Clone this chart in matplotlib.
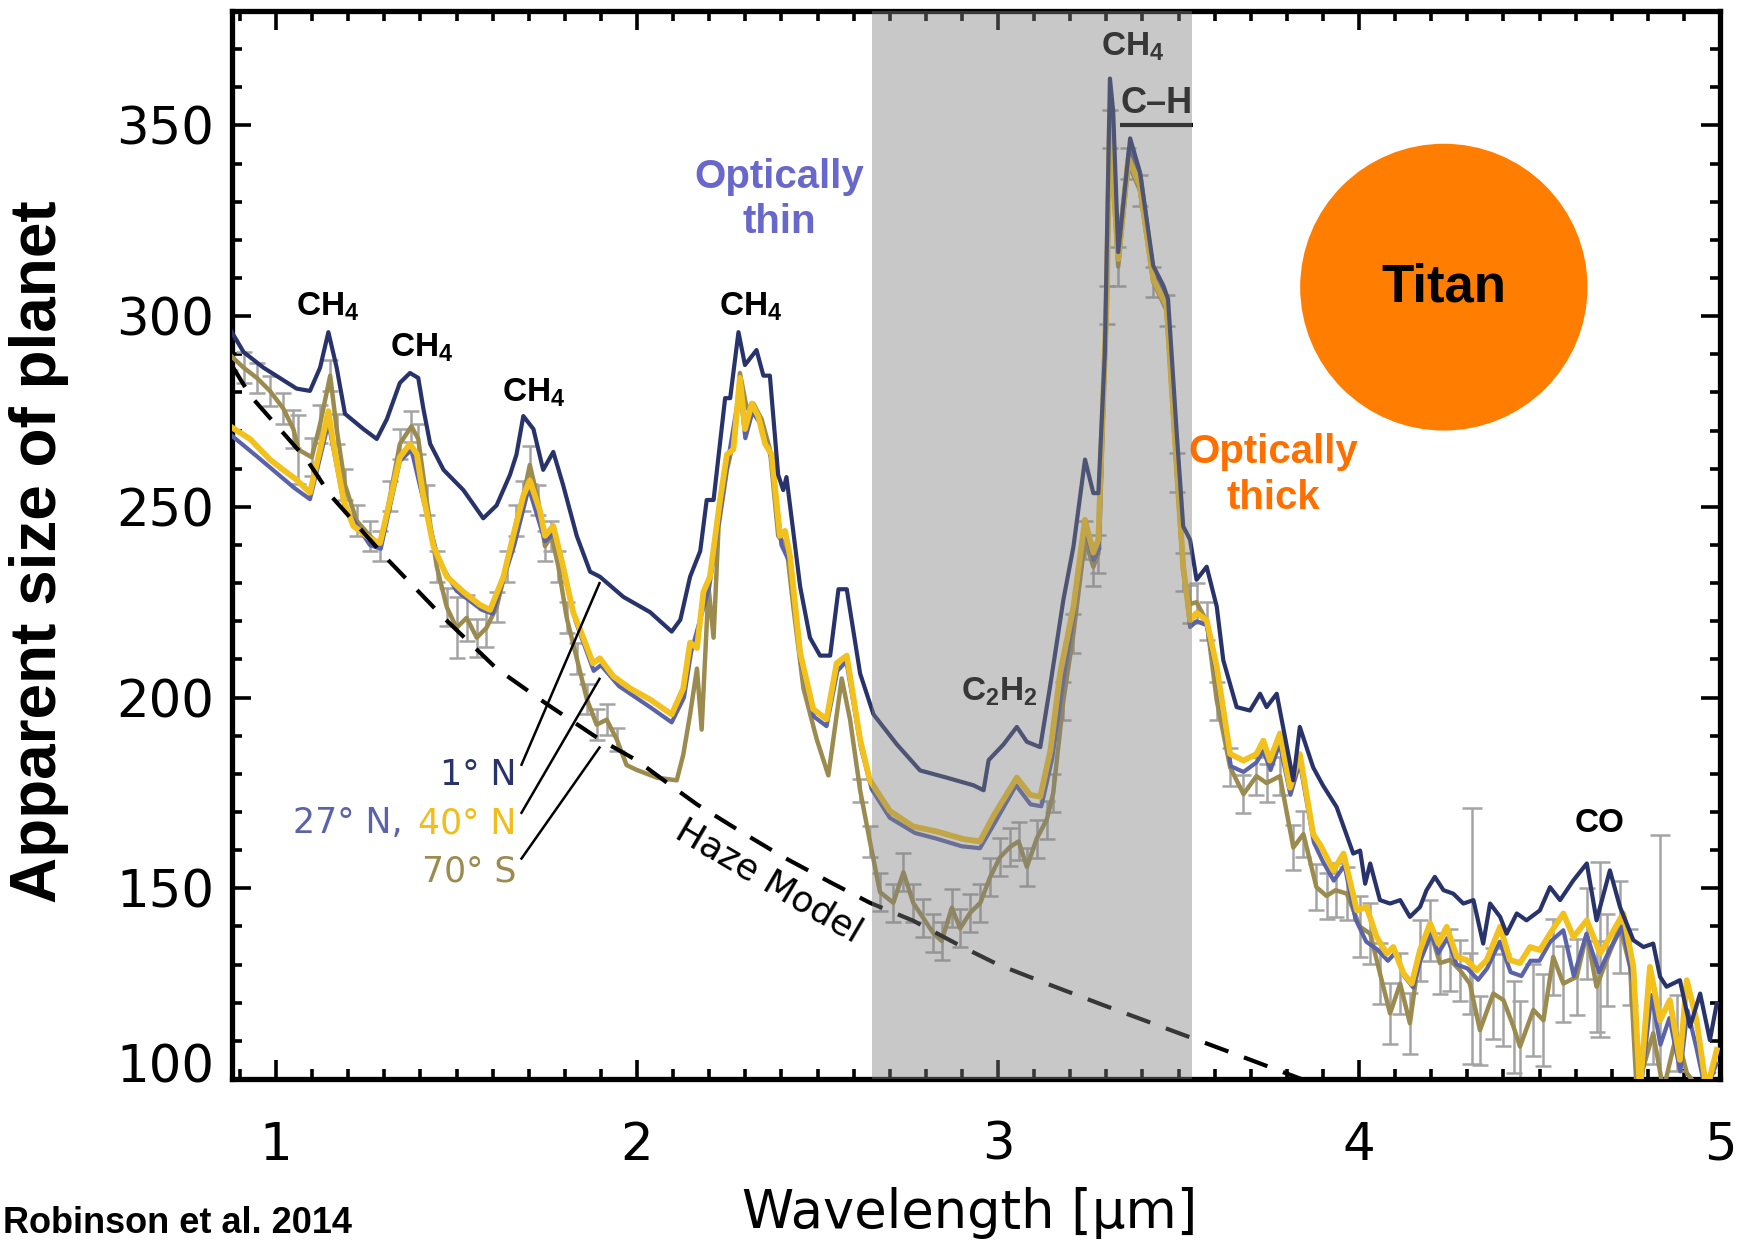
import numpy as np
import matplotlib
matplotlib.use("Agg")
import matplotlib.pyplot as plt
import matplotlib.transforms as mtransforms
from matplotlib.patches import Ellipse
from matplotlib.ticker import MultipleLocator, FixedLocator

plt.rcParams['font.family'] = ['DejaVu Sans']
plt.rcParams['mathtext.fontset'] = 'custom'
plt.rcParams['mathtext.rm'] = 'Liberation Sans:bold'
plt.rcParams['mathtext.it'] = 'Liberation Sans:bold:italic'
plt.rcParams['mathtext.bf'] = 'Liberation Sans:bold'
plt.rcParams['mathtext.default'] = 'rm'

# ---------------- data ----------------
n1_x = [0.873, 0.91, 0.965, 1.057, 1.094, 1.122, 1.145, 1.168, 1.191, 1.242, 1.279, 1.307,
        1.343, 1.371, 1.394, 1.408, 1.427, 1.464, 1.519, 1.574, 1.611, 1.648, 1.666, 1.685,
        1.713, 1.740, 1.768, 1.795, 1.833, 1.87, 1.897, 1.962, 2.036, 2.096, 2.12, 2.147,
        2.175, 2.193, 2.212, 2.244, 2.258, 2.281, 2.299, 2.331, 2.35, 2.368, 2.391, 2.405,
        2.414, 2.452, 2.479, 2.507, 2.535, 2.558, 2.581, 2.618, 2.655, 2.72, 2.784, 2.858,
        2.932, 2.96, 2.974, 3.015, 3.052, 3.08, 3.117, 3.144, 3.181, 3.209, 3.241, 3.264,
        3.278, 3.296, 3.31, 3.319, 3.333, 3.366, 3.393, 3.43, 3.458, 3.471, 3.495, 3.513,
        3.532, 3.55, 3.578, 3.606, 3.624, 3.661, 3.698, 3.726, 3.744, 3.772, 3.818, 3.836,
        3.873, 3.90, 3.938, 3.984, 4.003, 4.017, 4.031, 4.058, 4.086, 4.114, 4.141, 4.169,
        4.187, 4.21, 4.234, 4.261, 4.289, 4.317, 4.344, 4.363, 4.391, 4.409, 4.437, 4.464,
        4.501, 4.529, 4.557, 4.594, 4.631, 4.658, 4.695, 4.723, 4.76, 4.788, 4.815, 4.834,
        4.852, 4.889, 4.917, 4.945, 4.972, 4.991]
n1_y = [296.5, 290.6, 286.5, 281.0, 280.4, 286.5, 295.8, 286.5, 274.4, 270.4, 267.8, 273.0,
        282.5, 285.1, 283.8, 275.8, 266.5, 259.7, 254.4, 247.0, 250.4, 258.4, 263.7, 273.8,
        270.4, 259.7, 264.4, 255.8, 242.4, 233.0, 231.7, 226.4, 222.4, 217.3, 220.4, 231.7,
        238.4, 251.8, 251.8, 278.5, 278.5, 295.8, 287.2, 291.1, 284.4, 284.4, 258.4, 254.4,
        257.8, 229.0, 215.7, 211.0, 211.0, 228.4, 228.4, 206.3, 195.6, 187.7, 180.9, 179.0,
        177.0, 175.7, 183.6, 187.7, 192.3, 188.4, 187.0, 202.8, 225.6, 239.6, 262.4, 253.6,
        253.6, 290.5, 362.3, 353.7, 316.8, 346.6, 337.8, 313.2, 308.0, 304.5, 269.4, 244.9,
        241.4, 230.9, 234.3, 223.8, 209.8, 197.5, 196.6, 201.0, 197.5, 201.0, 178.3, 192.3,
        181.7, 177.0, 171.3, 159.1, 159.9, 151.2, 156.5, 146.9, 146.0, 146.9, 142.5, 145.1,
        149.5, 153.0, 149.5, 148.6, 146.0, 146.9, 135.5, 146.0, 142.5, 138.1, 143.4, 141.6,
        144.2, 150.3, 146.9, 152.1, 156.5, 141.6, 154.7, 145.1, 136.4, 134.6, 135.5, 126.8,
        124.2, 125.9, 113.7, 122.4, 110.2, 119.8]

n40_x = [0.873, 0.928, 0.983, 1.02, 1.057, 1.094, 1.122, 1.145, 1.159, 1.187, 1.214, 1.26,
         1.288, 1.316, 1.343, 1.371, 1.39, 1.408, 1.436, 1.473, 1.519, 1.565, 1.593, 1.63,
         1.657, 1.685, 1.703, 1.731, 1.745, 1.768, 1.795, 1.823, 1.851, 1.878, 1.897, 1.934,
         1.981, 2.036, 2.096, 2.128, 2.147, 2.166, 2.184, 2.202, 2.23, 2.249, 2.267, 2.285,
         2.299, 2.318, 2.336, 2.355, 2.373, 2.396, 2.41, 2.424, 2.452, 2.488, 2.525, 2.553,
         2.581, 2.618, 2.645, 2.7, 2.765, 2.83, 2.904, 2.95, 2.987, 3.052, 3.089, 3.117,
         3.145, 3.172, 3.209, 3.241, 3.264, 3.278, 3.301, 3.31, 3.333, 3.361, 3.393, 3.43,
         3.467, 3.495, 3.513, 3.532, 3.55, 3.578, 3.606, 3.643, 3.68, 3.716, 3.735, 3.753,
         3.781, 3.809, 3.836, 3.873, 3.895, 3.929, 3.957, 3.994, 4.021, 4.049, 4.077, 4.095,
         4.123, 4.146, 4.169, 4.197, 4.22, 4.243, 4.271, 4.298, 4.326, 4.354, 4.391, 4.418,
         4.446, 4.474, 4.501, 4.529, 4.566, 4.594, 4.631, 4.668, 4.695, 4.732, 4.76, 4.778,
         4.806, 4.834, 4.861, 4.889, 4.908, 4.935, 4.963, 4.991]
n40_y = [271.1, 267.8, 262.4, 259.7, 257.1, 253.7, 265.1, 275.1, 266.5, 251.8, 245.0, 241.7,
         240.5, 251.8, 263.0, 266.5, 263.8, 252.9, 239.7, 231.7, 227.7, 224.3, 223.0, 231.7,
         242.4, 252.9, 256.9, 249.0, 242.4, 245.0, 234.4, 222.4, 215.7, 209.0, 210.3, 205.6,
         202.4, 199.5, 195.6, 202.4, 214.4, 213.0, 227.7, 231.7, 251.8, 263.7, 265.1, 283.8,
         270.4, 277.1, 273.7, 266.5, 263.7, 242.4, 243.7, 237.0, 211.7, 197.0, 194.3, 209.0,
         211.0, 189.0, 178.3, 170.3, 166.2, 164.9, 162.9, 162.3, 168.9, 179.0, 174.5, 174.0,
         186.0, 206.3, 223.8, 246.6, 238.0, 241.4, 304.5, 351.8, 315.0, 341.4, 334.3, 309.7,
         302.7, 260.7, 234.3, 220.3, 222.2, 220.3, 208.0, 185.2, 183.5, 185.2, 188.7, 183.5,
         190.6, 176.4, 185.2, 164.2, 161.0, 154.7, 159.1, 144.2, 145.1, 137.2, 132.9, 134.6,
         127.7, 125.0, 133.8, 140.8, 135.5, 139.9, 132.0, 131.2, 128.5, 131.2, 139.9, 131.2,
         130.4, 134.6, 133.8, 138.1, 143.4, 137.2, 141.6, 132.9, 137.2, 143.4, 129.4, 97.0,
         129.4, 115.4, 120.7, 105.0, 125.9, 115.4, 97.0, 107.6]

n27_x = [0.873, 0.95, 1.05, 1.094, 1.145, 1.19, 1.26, 1.29, 1.343, 1.375, 1.41, 1.45, 1.50,
         1.57, 1.60, 1.66, 1.70, 1.745, 1.77, 1.83, 1.88, 1.90, 1.95, 2.036, 2.096, 2.13,
         2.15, 2.20, 2.25, 2.285, 2.30, 2.32, 2.34, 2.375, 2.40, 2.425, 2.455, 2.49, 2.525,
         2.555, 2.58, 2.62, 2.65, 2.70, 2.77, 2.83, 2.90, 2.95, 2.99, 3.05, 3.09, 3.12, 3.15,
         3.18, 3.21, 3.24, 3.265, 3.28, 3.30, 3.31, 3.333, 3.363, 3.395, 3.43, 3.467, 3.495,
         3.513, 3.532, 3.55, 3.578, 3.606, 3.645, 3.68, 3.716, 3.735, 3.755, 3.78, 3.81,
         3.836, 3.875, 3.90, 3.93, 3.96, 3.99, 4.02, 4.05, 4.08, 4.10, 4.125, 4.15, 4.17,
         4.20, 4.22, 4.245, 4.27, 4.30, 4.33, 4.355, 4.39, 4.42, 4.45, 4.475, 4.50, 4.53,
         4.566, 4.595, 4.63, 4.665, 4.695, 4.73, 4.76, 4.78, 4.81, 4.835, 4.86, 4.89, 4.91,
         4.935, 4.96, 4.99]
n27_y = [269, 263, 255, 252, 272, 250, 240, 239, 262, 265, 251, 236, 228, 223, 222, 240, 255,
         241, 243, 220, 207, 208.5, 203, 197.5, 193.5, 200, 212, 229, 261, 281, 268, 275, 272,
         262, 240, 235, 209, 195, 192.5, 207, 209.5, 187, 176, 168.5, 164.5, 163, 161, 160.5,
         167, 177, 172, 171.5, 184, 204, 222, 245, 236, 239, 303, 352, 318, 344, 337, 312,
         305, 263, 235, 218.5, 220, 219, 206, 182, 180.5, 183, 186, 181, 188, 174.5, 183,
         162, 157, 152, 156, 142, 136, 134, 131, 133, 127, 124, 131, 138, 133, 137, 130, 129,
         126, 129, 136, 128, 127, 131, 131, 136, 139, 127, 138, 128, 134, 140, 125, 97, 122,
         109, 116, 102, 118, 108, 97, 104]

s70_x = [0.873, 0.91, 0.947, 0.983, 1.02, 1.048, 1.062, 1.099, 1.122, 1.15, 1.168, 1.191,
         1.223, 1.26, 1.288, 1.316, 1.343, 1.375, 1.394, 1.417, 1.445, 1.473, 1.5, 1.528,
         1.556, 1.583, 1.611, 1.639, 1.666, 1.685, 1.703, 1.726, 1.745, 1.763, 1.782, 1.805,
         1.833, 1.861, 1.888, 1.916, 1.944, 1.971, 2.0, 2.055, 2.11, 2.128, 2.147, 2.166,
         2.179, 2.198, 2.212, 2.226, 2.249, 2.272, 2.285, 2.304, 2.322, 2.345, 2.368, 2.391,
         2.414, 2.433, 2.461, 2.498, 2.53, 2.567, 2.59, 2.618, 2.645, 2.673, 2.71, 2.738,
         2.765, 2.793, 2.821, 2.844, 2.872, 2.895, 2.923, 2.951, 2.978, 3.006, 3.034, 3.057,
         3.08, 3.107, 3.135, 3.153, 3.181, 3.209, 3.241, 3.264, 3.278, 3.301, 3.31, 3.333,
         3.361, 3.393, 3.43, 3.467, 3.495, 3.513, 3.532, 3.55, 3.578, 3.606, 3.643, 3.68,
         3.716, 3.744, 3.781, 3.818, 3.846, 3.882, 3.91, 3.935, 3.966, 4.003, 4.031, 4.058,
         4.086, 4.114, 4.141, 4.169, 4.197, 4.224, 4.252, 4.28, 4.307, 4.335, 4.372, 4.4,
         4.428, 4.446, 4.483, 4.511, 4.538, 4.566, 4.603, 4.631, 4.658, 4.686, 4.723, 4.751,
         4.769, 4.815, 4.843, 4.88, 4.908, 4.945, 4.982]
s70_y = [289.8, 286.5, 283.8, 280.4, 275.8, 270.4, 265.0, 263.0, 271.7, 284.4, 270.4, 255.8,
         246.4, 242.4, 239.7, 252.9, 266.5, 271.1, 267.8, 251.8, 234.4, 223.7, 218.3, 220.9,
         215.7, 218.3, 223.7, 234.4, 246.4, 252.9, 261.0, 251.8, 239.7, 242.4, 234.4, 221.0,
         210.3, 199.6, 192.9, 194.2, 189.0, 182.3, 181.0, 179.0, 178.3, 185.0, 195.6, 207.6,
         191.6, 229.0, 215.7, 245.0, 259.7, 269.1, 285.1, 275.8, 277.1, 273.0, 265.1, 242.4,
         239.7, 223.7, 202.4, 189.0, 179.6, 205.0, 194.3, 175.7, 162.3, 149.0, 146.2, 154.2,
         146.2, 142.2, 138.2, 136.2, 144.9, 139.5, 143.6, 146.2, 152.9, 158.2, 160.9, 162.3,
         155.6, 163.0, 168.0, 175.0, 199.2, 216.8, 241.4, 234.3, 237.7, 303.0, 349.0, 313.0,
         340.0, 333.0, 309.0, 301.5, 259.0, 233.0, 224.5, 225.0, 220.0, 199.2, 181.7, 174.7,
         179.4, 177.6, 179.4, 160.7, 164.2, 150.3, 148.0, 149.5, 148.6, 139.9, 138.1, 127.7,
         117.2, 125.0, 114.6, 133.8, 139.0, 130.4, 131.2, 128.5, 125.0, 112.8, 122.4, 120.7,
         113.7, 108.5, 118.1, 115.4, 132.0, 125.0, 126.8, 138.1, 124.2, 131.2, 139.9, 129.4,
         97.0, 112.0, 97.0, 112.0, 101.6, 97.0, 101.6]
s70_err = [4, 4, 4, 4, 4, 5, 9, 5, 5, 4, 4, 4,
           4, 4, 4, 4, 4, 4, 4, 4, 4, 5, 8, 6,
           5, 5, 4, 4, 4, 4, 5, 4, 4, 4, 4, 4,
           4, 4, 4, 4, 3, 0, 0, 0, 0, 0, 0, 0,
           0, 0, 0, 0, 0, 0, 0, 0, 0, 0, 0, 0,
           0, 0, 0, 0, 0, 0, 0, 3, 4, 5, 5, 5,
           5, 5, 5, 5, 5, 5, 5, 5, 5, 5, 5, 5,
           5, 5, 5, 5, 5, 5, 5, 5, 5, 5, 5, 5,
           4, 4, 4, 4, 5, 5, 5, 5, 5, 5, 5, 5,
           5, 5, 5, 6, 6, 6, 6, 7, 7, 8, 8, 8,
           8, 8, 8, 8, 8, 8, 8, 8, 8, 9, 12, 12,
           12, 12, 12, 12, 10, 10, 10, 12, 12, 12, 12, 10,
           0, 8, 0, 10, 0, 0, 0]

# a few very large uncertainty bars (x, lower, upper)
big_x = [4.312, 4.667, 4.834]
big_lo = [104, 111, 99]
big_hi = [171, 157, 164]

haze_x = [0.878, 0.93, 1.085, 1.15, 1.307, 1.464, 1.611, 1.75, 1.897, 2.0, 2.1, 2.166,
          2.285, 2.405, 2.535, 2.645, 2.765, 2.904, 3.0, 3.135, 3.288, 3.473, 3.658, 3.84]
haze_y = [287, 279, 262.4, 253.1, 236.4, 221, 207.6, 198.3, 189, 183.5, 176.5, 172,
          165, 158.2, 151.6, 146.2, 141.5, 134.5, 130, 125, 119.5, 113, 106.5, 100]

x_ticks = [1, 2, 3, 4, 5]
y_ticks = [100, 150, 200, 250, 300, 350]

# ---------------- style ----------------
C_N1 = '#28336c'
C_N27 = '#5a63aa'
C_N40 = '#f3c11c'
C_S70 = '#9c8b4e'
C_ERR = '#a4a4a4'

fig = plt.figure(figsize=(17.48, 12.44), dpi=100)
ax = fig.add_axes([232/1748, 1-1079/1244, (1720-232)/1748, (1079-11)/1244])

ax.set_xlim(0.878, 5.0)
ax.set_ylim(100, 380)

# error bars of 70S
ex = [x for x, e in zip(s70_x, s70_err) if e > 0]
ey = [y for y, e in zip(s70_y, s70_err) if e > 0]
ee = [e for e in s70_err if e > 0]
ax.errorbar(ex, ey, yerr=ee, fmt='none', ecolor=C_ERR, elinewidth=1.8,
            capsize=5.5, capthick=1.8, zorder=2)
bc = [(lo + hi) / 2 for lo, hi in zip(big_lo, big_hi)]
bh = [(hi - lo) / 2 for lo, hi in zip(big_lo, big_hi)]
ax.errorbar(big_x, bc, yerr=bh, fmt='none', ecolor=C_ERR, elinewidth=1.8,
            capsize=7, capthick=1.8, zorder=2)

ax.plot(s70_x, s70_y, color=C_S70, lw=3.2, zorder=3, solid_joinstyle='round')
ax.plot(n27_x, n27_y, color=C_N27, lw=3.0, zorder=4, solid_joinstyle='round')
ax.plot(n40_x, n40_y, color=C_N40, lw=4.2, zorder=5, solid_joinstyle='round')
ax.plot(n1_x, n1_y, color=C_N1, lw=3.0, zorder=6, solid_joinstyle='round')

ax.plot(haze_x, haze_y, color='black', lw=3.0, ls=(0, (6, 4)), zorder=7)

# legend pointer lines
for (x0, y0, x1, y1) in [(1.68, 182.4, 1.896, 230.0),
                         (1.68, 169.8, 1.896, 204.9),
                         (1.68, 157.8, 1.896, 186.9)]:
    ax.plot([x0, x1], [y0, y1], color='black', lw=1.8, zorder=8)

lfs = 25
ax.text(1.667, 179.6, '1° N', color=C_N1, fontsize=lfs, ha='right', va='center', zorder=9)
ax.text(1.667, 167.0, '40° N', color='#f0bd1a', fontsize=lfs, ha='right', va='center', zorder=9)
ax.text(1.350, 167.0, '27° N,', color=C_N27, fontsize=lfs, ha='right', va='center', zorder=9)
ax.text(1.667, 154.3, '70° S', color=C_S70, fontsize=lfs, ha='right', va='center', zorder=9)

ax.text(2.366, 151.8, 'Haze Model', fontsize=26, rotation=-30.5, ha='center', va='center',
        rotation_mode='anchor', zorder=9)

# molecule labels
mfam = 'Liberation Sans'
mfs = 24
for (tx, ty, s) in [(1.143, 302.5, 'CH$_4$'), (1.404, 291.8, 'CH$_4$'),
                    (1.713, 279.8, 'CH$_4$'), (2.314, 302.5, 'CH$_4$'),
                    (3.373, 370.7, 'CH$_4$'), (3.003, 201.6, 'C$_2$H$_2$'),
                    (4.665, 167.0, 'CO')]:
    ax.text(tx, ty, s, fontsize=mfs, family=mfam, weight='bold', ha='center', va='center', zorder=9)
ax.text(3.44, 355.8, 'C\u2013H', fontsize=26, family=mfam, weight='bold', ha='center', va='center', zorder=9)
ax.plot([3.338, 3.54], [350, 350], color='black', lw=3.0, zorder=9, solid_capstyle='butt')

# annotations
ax.text(2.393, 336.6, 'Optically', color='#6767cc', fontsize=29, family=mfam, weight='bold',
        ha='center', va='center', zorder=9)
ax.text(2.393, 324.6, 'thin', color='#6767cc', fontsize=29, family=mfam, weight='bold',
        ha='center', va='center', zorder=9)
ax.text(3.762, 264.4, 'Optically', color='#ff6f00', fontsize=29, family=mfam, weight='bold',
        ha='center', va='center', zorder=9)
ax.text(3.762, 252.4, 'thick', color='#ff6f00', fontsize=29, family=mfam, weight='bold',
        ha='center', va='center', zorder=9)

ax.add_patch(Ellipse((4.235, 307.6), 0.796, 75.2, facecolor='#ff7d00', edgecolor='none', zorder=9))
ax.text(4.235, 307.6, 'Titan', fontsize=38, family=mfam, weight='bold', ha='center', va='center', zorder=10)

# semi-transparent shaded band on top
ax.axvspan(2.652, 3.537, facecolor='#808080', alpha=0.43, lw=0, zorder=20)

# axes styling
ax.xaxis.set_major_locator(FixedLocator(x_ticks))
ax.xaxis.set_minor_locator(MultipleLocator(0.1))
ax.yaxis.set_major_locator(FixedLocator(y_ticks))
ax.yaxis.set_minor_locator(MultipleLocator(10))
ax.set_xticklabels([str(v) for v in x_ticks])
ax.set_yticklabels([str(v) for v in y_ticks])
ax.tick_params(which='both', direction='in', top=True, right=True, width=2.6, color='black')
ax.tick_params(which='major', length=14)
ax.tick_params(which='minor', length=7)
ax.tick_params(axis='x', which='major', labelsize=37, pad=30)
ax.tick_params(axis='y', which='major', labelsize=37, pad=13)
for sp in ax.spines.values():
    sp.set_linewidth(3.8)

lab = ax.yaxis.get_majorticklabels()[0]
lab.set_transform(lab.get_transform() + mtransforms.ScaledTranslation(0, 0.16, fig.dpi_scale_trans))

fig.text(39/1748, 1-552/1244, 'Apparent size of planet', rotation=90, fontsize=46,
         family=mfam, weight='bold', ha='center', va='center')
fig.text(970/1748, 1-1228/1244, 'Wavelength [\u03bcm]', fontsize=38, ha='center', va='baseline')
fig.text(3/1748, 3/1244, 'Robinson et al. 2014', fontsize=26, family=mfam, weight='bold',
         ha='left', va='bottom')

fig.savefig('out.png', dpi=100)
